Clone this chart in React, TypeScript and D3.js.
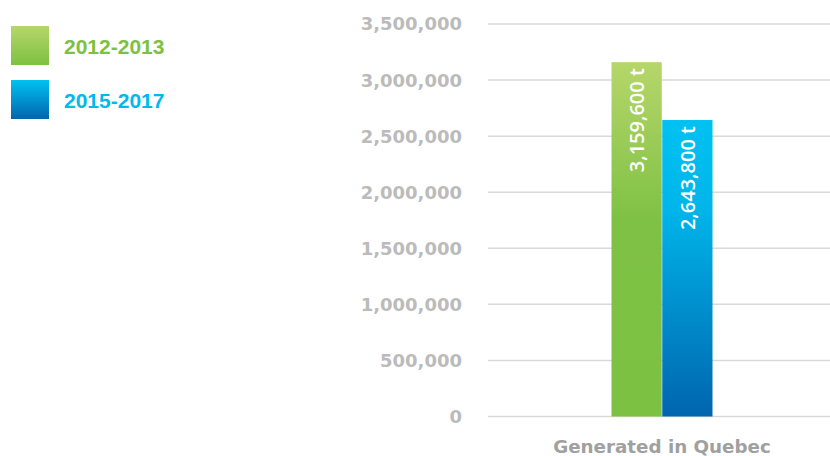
import React from "react";
import * as d3 from "d3";

const categories = ["Generated in Quebec"];
const seriesNames = ["2012-2013", "2015-2017"];
const seriesValues = [3159600, 2643800];
const barLabels = ["3,159,600 t", "2,643,800 t"];
const yTicks = [0, 500000, 1000000, 1500000, 2000000, 2500000, 3000000, 3500000];

const W = 830;
const H = 456;

export default function App() {
  const y = d3.scaleLinear().domain([0, 3500000]).range([416.5, 24]);
  const x0 = d3.scaleBand().domain(categories).range([488, 836]).paddingInner(0).paddingOuter(1.223);
  const x1 = d3.scaleBand().domain(seriesNames).range([0, x0.bandwidth()]).paddingInner(0.01);
  const fmt = d3.format(",");
  const legendColors = ["#7dc142", "#00b9ef"];
  const grads = ["gGreen", "gBlue"];
  const axisFont = "'DejaVu Sans', sans-serif";

  return (
    <svg width={W} height={H} style={{ position: "absolute", left: 0, top: 0, background: "#fff" }}>
      <defs>
        <linearGradient id="gGreen" x1="0" y1="0" x2="0" y2="1">
          <stop offset="0" stopColor="#b6d66a" />
          <stop offset="0.45" stopColor="#7ec144" />
          <stop offset="1" stopColor="#7dc142" />
        </linearGradient>
        <linearGradient id="gBlue" x1="0" y1="0" x2="0" y2="1">
          <stop offset="0" stopColor="#00c2f2" />
          <stop offset="0.3" stopColor="#00b5ea" />
          <stop offset="1" stopColor="#0065ae" />
        </linearGradient>
        <linearGradient id="lGreen" x1="0" y1="0" x2="0" y2="1">
          <stop offset="0" stopColor="#b6d66a" />
          <stop offset="1" stopColor="#7dc142" />
        </linearGradient>
        <linearGradient id="lBlue" x1="0" y1="0" x2="0" y2="1">
          <stop offset="0" stopColor="#00c2f2" />
          <stop offset="1" stopColor="#0065ae" />
        </linearGradient>
      </defs>
      {yTicks.map((t) => (
        <g key={t}>
          <line x1={488} x2={830} y1={y(t)} y2={y(t)} stroke="#d9d9d9" strokeWidth={1.5} />
          <text x={462} y={y(t)} dy="0.36em" textAnchor="end" fill="#bbbbbb" fontFamily={axisFont} fontWeight={700} fontSize={18}>
            {fmt(t)}
          </text>
        </g>
      ))}
      {categories.map((c) => (
        <g key={c} transform={`translate(${x0(c)},0)`}>
          {seriesNames.map((s, i) => {
            const bx = x1(s)!;
            const bw = x1.bandwidth();
            const top = y(seriesValues[i]);
            return (
              <g key={s}>
                <rect x={bx} y={top} width={bw} height={y(0) - top} fill={`url(#${grads[i]})`} />
                <text
                  transform={`translate(${bx + bw / 2},${top + 6}) rotate(-90)`}
                  textAnchor="end"
                  dy="0.36em"
                  fill="#ffffff"
                  fontFamily="'Open Sans', sans-serif"
                  fontWeight={600}
                  fontSize={20}
                >
                  {barLabels[i]}
                </text>
              </g>
            );
          })}
          <text x={x0.bandwidth() / 2} y={453} textAnchor="middle" fill="#a0a0a0" fontFamily={axisFont} fontWeight={700} fontSize={18.3}>
            {c}
          </text>
        </g>
      ))}
      {seriesNames.map((s, i) => (
        <g key={s} transform={`translate(11,${26 + i * 54})`}>
          <rect width={38} height={39} fill={`url(#${i === 0 ? "lGreen" : "lBlue"})`} />
          <text x={53} y={20} dy="0.36em" fill={legendColors[i]} fontFamily="'Liberation Sans', Arial, sans-serif" fontWeight={700} fontSize={21}>
            {s}
          </text>
        </g>
      ))}
    </svg>
  );
}
